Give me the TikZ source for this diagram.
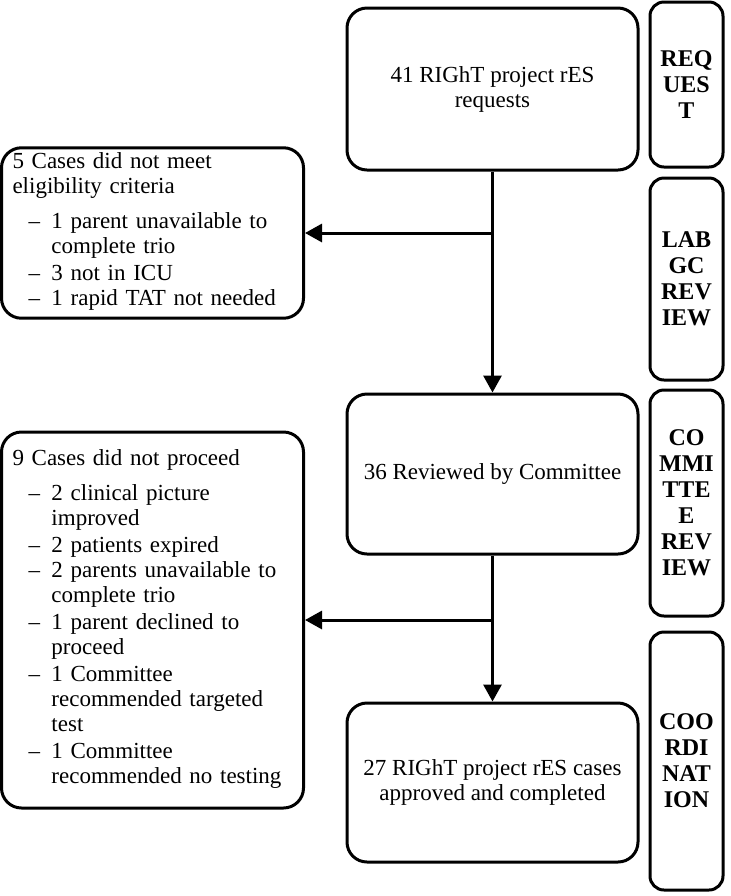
\documentclass[tikz,border=0pt]{standalone}
\usepackage{fontspec}
\setmainfont{Liberation Serif}
\usetikzlibrary{arrows.meta,positioning,calc}
\newcommand{\dashitem}[1]{\par\noindent\hspace*{8pt}\makebox[11.5pt][l]{--}\begin{tabular}[t]{@{}l@{}}#1\end{tabular}}

\begin{document}
\begin{tikzpicture}[x=0.5pt, y=-0.5pt, >={Triangle[length=8.5pt,width=9pt]}, line width=1.5pt,
    font=\fontsize{11.5}{12.5}\selectfont]
        \tikzstyle{box}=[draw=black, rounded corners=10pt, align=center, inner sep=4pt]
        \tikzstyle{stage}=[box, rounded corners=7pt, minimum width=36.5pt, font=\fontsize{12}{13}\selectfont\bfseries]
        \tikzstyle{reason}=[box, align=left, text width=140pt, inner xsep=5.5pt, inner ysep=2.5pt,
            minimum width=150.5pt, execute at begin node={\lineskiplimit=-6pt}]
        \useasboundingbox (0,0) rectangle (731,896);

        % main flow
        \node[box, minimum width=145.5pt, minimum height=81pt] (req) at (492.5,89)
            {41 RIGhT project rES\\requests};
        \node[box, minimum width=145.5pt, minimum height=80pt] (rev) at (492.5,474)
            {36 Reviewed by Committee};
        \node[box, minimum width=145.5pt, minimum height=79.5pt] (done) at (492.5,782.5)
            {27 RIGhT project rES cases\\approved and completed};

        % excluded cases
        \node[reason, minimum height=85pt] (elig) at (152.5,233)
            {5 Cases did not meet\\eligibility criteria\par\vspace{5pt}
            \dashitem{1 parent unavailable to\\complete trio}
            \dashitem{3 not in ICU}
            \dashitem{1 rapid TAT not needed}};
        \node[reason, minimum height=188pt] (noproc) at (152.5,620)
            {9 Cases did not proceed\par\vspace{5pt}
            \dashitem{2 clinical picture\\improved}
            \dashitem{2 patients expired}
            \dashitem{2 parents unavailable to\\complete trio}
            \dashitem{1 parent declined to\\proceed}
            \dashitem{1 Committee\\recommended targeted\\test}
            \dashitem{1 Committee\\recommended no testing}};

        % stages
        \node[stage, minimum height=82.5pt] (s1) at (686.5,84.5) {REQ\\UES\\T};
        \node[stage, minimum height=101pt] (s2) at (686.5,279) {LAB\\GC\\REV\\IEW};
        \node[stage, minimum height=113pt] (s3) at (686.5,503) {CO\\MMI\\TTE\\E\\REV\\IEW};
        \node[stage, minimum height=129pt] (s4) at (686.5,761) {COO\\RDI\\NAT\\ION};

        \path[->]
        (req) edge (rev)
        (rev) edge (done)
        (req.south |- elig.east) edge (elig.east)
        (rev.south |- noproc.east) edge (noproc.east);
    \end{tikzpicture}
\end{document}
